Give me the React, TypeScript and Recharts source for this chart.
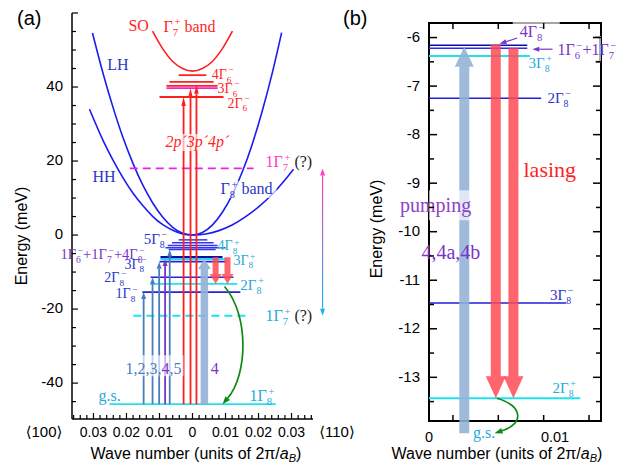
import React from "react";
import { ComposedChart, XAxis, YAxis, Line, ReferenceLine, ReferenceDot, ReferenceArea } from "recharts";

const SERIF = "'Liberation Serif', 'DejaVu Serif', serif";
const SANS = "'Liberation Sans', 'DejaVu Sans', Arial, sans-serif";

const BLUE = "#1c1cf0";
const DKBLUE = "#0c0ca6";
const RED = "#ff1f1f";
const MAGENTA = "#f020dc";
const CYAN = "#1ee3ee";
const STEEL = "#4a7cc0";
const PURPLE = "#7a34c8";
const PUMP = "#93b0d7";
const LASE = "#ff4a52";
const GREEN = "#0e8a12";
const BLUE_T = "#2a36c8";
const CYAN_T = "#27a9dc";
const MAG_T = "#ff3cc0";

// ---- panel (a): [k (2pi/aB), E (meV)]; k<0 is <100>, k>0 is <110>
const lh100: [number, number][] = [[-0.0303, 54.6], [-0.027, 43.4], [-0.024, 34.3], [-0.021, 26.2], [-0.018, 19.3], [-0.015, 13.4], [-0.012, 8.6], [-0.009, 4.8], [-0.006, 2.1], [-0.003, 0.5], [0, 0]];
const hh100: [number, number][] = [[-0.0312, 34.0], [-0.027, 25.4], [-0.024, 20.1], [-0.021, 15.4], [-0.018, 11.3], [-0.015, 7.9], [-0.012, 5.0], [-0.009, 2.8], [-0.006, 1.3], [-0.003, 0.3], [0, 0]];
const lh110: [number, number][] = [[0, 0], [0.003, 0.7], [0.006, 2.7], [0.009, 6.1], [0.012, 10.8], [0.015, 16.9], [0.018, 24.3], [0.021, 33.1], [0.024, 43.2], [0.027, 54.7]];
const hh110: [number, number][] = [[0, 0], [0.004, 0.3], [0.008, 1.2], [0.012, 2.7], [0.016, 4.9], [0.02, 7.6], [0.024, 10.9], [0.028, 14.9], [0.0306, 17.8]];
const soBand: [number, number][] = [[-0.0121, 55.1], [-0.009, 50.3], [-0.006, 46.9], [-0.003, 45.0], [0, 44.3], [0.003, 45.0], [0.006, 46.9], [0.009, 50.3], [0.0121, 55.1]];

// levels: [E, k from, k to]
const gamma6Levels = [[43.2, -0.0042, 0.0042], [41.4, -0.007, 0.0064], [40.3, -0.0079, 0.0076], [37.3, -0.01, 0.0094]];
const magentaLevels = [[39.7, -0.0079, 0.0076]];
const edgeLevels = [[-1.3, -0.0042, 0.0045], [-2.1, -0.0062, 0.0064], [-2.8, -0.0075, 0.0076], [-3.4, -0.0082, 0.01], [-3.9, -0.0072, 0.007]];
const gamma8mLevels = [[-7.2, -0.01, 0.0103], [-11.4, -0.0127, 0.0124], [-15.4, -0.0152, 0.0145]];
const gamma8mTop = [[-6.0, -0.0097, 0.0091]];
const gamma8pLevels = [[-6.5, -0.0097, 0.0103], [-13.2, -0.0127, 0.0136], [-45.7, -0.0252, 0.0252]];
const gamma7Dashed = [[18.0, -0.019, 0.0185]];
const gamma7DashedLow = [[-21.8, -0.0179, 0.0176]];

const groundE = -45.7;
const absK = [-0.0148, -0.0121, -0.0101, -0.0083, -0.0069];
const absTop = [-15.4, -11.4, -7.2, -6.5, -3.9];
const pK = [-0.0027, -0.0006, 0.0012];
const pTop = [37.3, 39.7, 40.6];
const pumpA = [0.0036, -45.7, -6.5];
const laseAK = [0.007, 0.0106];
const laseAE = [-6.0, -13.2];
const relaxA = [[0.0097, -13.9], [0.0091, -45.7]];
const gamma7Span = [0.0394, 18.0, -21.8];

const aYTicks = [-45, -40, -35, -30, -25, -20, -15, -10, -5, 0, 5, 10, 15, 20, 25, 30, 35, 40, 45, 50, 55, 60];
const aYLabels = [-40, -20, 0, 20, 40];
const aXTicks: number[] = [];
for (let i = -18; i <= 18; i++) aXTicks.push((i * 2) / 1000);

// ---- panel (b)
const bBlue = [[-7.25, 0, 0.0089], [-11.47, 0, 0.0109]];
const bTop = [[-6.16, 0, 0.0078], [-6.22, 0, 0.0078]];
const bCyan = [[-6.38, 0, 0.008], [-13.43, 0, 0.012]];
const pumpB = [0.0028, -14.15, -6.19];
const laseBK = [0.0053, 0.0067];
const laseBTop = [-6.15, -6.22];
const laseBBottom = -13.43;
const relaxB = [[0.0054, -13.43], [0.0052, -14.15]];
const bYTicks = [-13.5, -13, -12.5, -12, -11.5, -11, -10.5, -10, -9.5, -9, -8.5, -8, -7.5, -7, -6.5, -6];
const bXMinor = [0.0019, 0.0055, 0.0091, 0.0127];
const bXLabels = [0, 0.01];

const B_W = 172;
const B_H = 398;

type Seg = [string, string];

function rich(segs: Seg[], fs: number) {
  const out: React.ReactNode[] = [];
  let off = 0;
  let n = 0;
  const put = (t: string, c: string, target: number, size: number, dx?: number) => {
    out.push(
      <tspan key={n++} fill={c} fontSize={size} dx={dx} dy={target - off}>
        {t}
      </tspan>
    );
    off = target;
  };
  for (const [s, c] of segs) {
    let buf = "";
    let prevSub = false;
    for (let i = 0; i < s.length; i++) {
      const ch = s[i];
      if (ch === "_" || ch === "^") {
        if (buf) { put(buf, c, 0, fs); buf = ""; }
        const t = s[++i];
        if (ch === "_") { put(t, c, fs * 0.26, fs * 0.66); prevSub = true; }
        else { put(t, c, -fs * 0.4, fs * 0.66, prevSub ? -fs * 0.22 : undefined); prevSub = false; }
      } else {
        buf += ch;
        prevSub = false;
      }
    }
    if (buf) put(buf, c, 0, fs);
  }
  return out;
}

type NoteOpts = { fs?: number; italic?: boolean; bg?: number[] };

function note(key: string, k: number, e: number, segs: Seg[], o: NoteOpts = {}) {
  const fs = o.fs ?? 16;
  return (
    <ReferenceDot
      key={key}
      x={k}
      y={e}
      r={0}
      ifOverflow="visible"
      shape={(p: any) => (
        <g>
          {o.bg && <rect x={p.cx + o.bg[0]} y={p.cy + o.bg[1]} width={o.bg[2]} height={o.bg[3]} fill="#fff" fillOpacity={0.65} />}
          <text x={p.cx} y={p.cy} fontSize={fs} fontFamily={SERIF} fontStyle={o.italic ? "italic" : undefined}>
            {rich(segs, fs)}
          </text>
        </g>
      )}
    />
  );
}

const thinArrow = (color: string, w: number, hl: number, hw: number) => (p: any) => {
  const { x1, y1, x2, y2 } = p;
  const L = Math.hypot(x2 - x1, y2 - y1) || 1;
  const ux = (x2 - x1) / L, uy = (y2 - y1) / L;
  const bx = x2 - ux * hl, by = y2 - uy * hl;
  const px = -uy * hw / 2, py = ux * hw / 2;
  return (
    <g>
      <line x1={x1} y1={y1} x2={bx} y2={by} stroke={color} strokeWidth={w} />
      <polygon points={`${x2},${y2} ${bx + px},${by + py} ${bx - px},${by - py}`} fill={color} />
    </g>
  );
};

const fatArrow = (color: string, sw: number, hw: number, hl: number, op: number) => (p: any) => {
  const { x1, y1, x2, y2 } = p;
  const L = Math.hypot(x2 - x1, y2 - y1) || 1;
  const ux = (x2 - x1) / L, uy = (y2 - y1) / L;
  const nx = -uy, ny = ux;
  const bx = x2 - ux * hl, by = y2 - uy * hl;
  const pts = [
    [x1 + nx * sw / 2, y1 + ny * sw / 2],
    [bx + nx * sw / 2, by + ny * sw / 2],
    [bx + nx * hw / 2, by + ny * hw / 2],
    [x2, y2],
    [bx - nx * hw / 2, by - ny * hw / 2],
    [bx - nx * sw / 2, by - ny * sw / 2],
    [x1 - nx * sw / 2, y1 - ny * sw / 2],
  ];
  return <polygon points={pts.map((q) => q.join(",")).join(" ")} fill={color} fillOpacity={op} />;
};

const curvedArrow = (color: string, bulge: number) => (p: any) => {
  const { x1, y1, x2, y2 } = p;
  const dy = y2 - y1;
  const c1x = x1 + bulge, c1y = y1 + dy * 0.25;
  const c2x = x2 + bulge, c2y = y2 - dy * 0.25;
  const L = Math.hypot(x2 - c2x, y2 - c2y) || 1;
  const ux = (x2 - c2x) / L, uy = (y2 - c2y) / L;
  const hl = 8, hw = 6;
  const bx = x2 - ux * hl, by = y2 - uy * hl;
  return (
    <g>
      <path d={`M${x1},${y1} C${c1x},${c1y} ${c2x},${c2y} ${bx},${by}`} fill="none" stroke={color} strokeWidth={1.7} />
      <polygon points={`${x2},${y2} ${bx - uy * hw / 2},${by + ux * hw / 2} ${bx + uy * hw / 2},${by - ux * hw / 2}`} fill={color} />
    </g>
  );
};

const gradArrow = (p: any) => {
  const { x1, y1, x2, y2 } = p;
  const top = Math.min(y1, y2), bot = Math.max(y1, y2);
  const hl = 7, hw = 5;
  return (
    <g>
      <defs>
        <linearGradient id="g7grad" x1="0" y1="0" x2="0" y2="1">
          <stop offset="0" stopColor="#ff40b8" />
          <stop offset="1" stopColor="#1fb2ee" />
        </linearGradient>
      </defs>
      <rect x={x1 - 0.6} y={top + hl} width={1.2} height={bot - top - 2 * hl} fill="url(#g7grad)" />
      <polygon points={`${x1},${top} ${x1 - hw / 2},${top + hl} ${x1 + hw / 2},${top + hl}`} fill="#ff40b8" />
      <polygon points={`${x2},${bot} ${x2 - hw / 2},${bot - hl} ${x2 + hw / 2},${bot - hl}`} fill="#1fb2ee" />
    </g>
  );
};

const bracket = (p: any) => {
  const { x1, y1, y2 } = p;
  return <path d={`M${x1 - 5},${y1} H${x1} V${y2} H${x1 - 5}`} fill="none" stroke="#aaa" strokeWidth={2} />;
};

const pts = (arr: [number, number][]) => arr.map(([k, e]) => ({ k, e }));

const level = (key: string, l: number[], color: string, w: number, dash?: string) => (
  <ReferenceLine
    key={key}
    segment={[{ x: l[1], y: l[0] }, { x: l[2], y: l[0] }]}
    stroke={color}
    strokeWidth={w}
    strokeDasharray={dash}
    ifOverflow="visible"
  />
);

const tickYA = (p: any) => {
  const v = p.payload.value;
  const major = v % 20 === 0;
  return (
    <g>
      <line x1={p.x} x2={p.x + (major ? 6 : 4)} y1={p.y} y2={p.y} stroke="#000" strokeWidth={1.2} />
      {aYLabels.includes(v) && (
        <text x={p.x - 9} y={p.y + 4} textAnchor="end" fontSize={15} fontFamily={SANS} fill="#000">
          {v}
        </text>
      )}
    </g>
  );
};

const tickXA = (p: any) => {
  const v = p.payload.value;
  const m = Math.round(v * 1000);
  const major = m % 10 === 0;
  return (
    <g>
      <line x1={p.x} x2={p.x} y1={p.y} y2={p.y - (major ? 6 : 4)} stroke="#000" strokeWidth={1.2} />
      {major && (
        <text x={p.x} y={p.y + 18} textAnchor="middle" fontSize={14} fontFamily={SANS} fill="#000">
          {m === 0 ? "0" : Math.abs(v).toFixed(2)}
        </text>
      )}
    </g>
  );
};

const tickYB = (p: any) => {
  const v = p.payload.value;
  const major = Number.isInteger(v);
  const len = major ? 8 : 5;
  return (
    <g>
      <line x1={p.x} x2={p.x + len} y1={p.y} y2={p.y} stroke="#000" strokeWidth={1.5} />
      <line x1={p.x + B_W} x2={p.x + B_W - len} y1={p.y} y2={p.y} stroke="#000" strokeWidth={1.5} />
      {major && (
        <text x={p.x - 9} y={p.y + 4.5} textAnchor="end" fontSize={15} fontFamily={SANS} fill="#000">
          {v}
        </text>
      )}
    </g>
  );
};

const tickXB = (p: any) => {
  const v = p.payload.value;
  if (bXLabels.includes(v)) {
    return (
      <text x={p.x} y={p.y + 21} textAnchor="middle" fontSize={14.5} fontFamily={SANS} fill="#000">
        {v === 0 ? "0" : "0.01"}
      </text>
    );
  }
  return (
    <g>
      <line x1={p.x} x2={p.x} y1={p.y} y2={p.y - 6} stroke="#000" strokeWidth={1.5} />
      <line x1={p.x} x2={p.x} y1={p.y - B_H} y2={p.y - B_H + 6} stroke="#000" strokeWidth={1.5} />
    </g>
  );
};

function PanelA() {
  const curves: [string, [number, number][], string][] = [
    ["lh100", lh100, BLUE],
    ["hh100", hh100, BLUE],
    ["lh110", lh110, BLUE],
    ["hh110", hh110, BLUE],
    ["so", soBand, RED],
  ];
  return (
    <ComposedChart width={631} height={466} margin={{ top: 13, right: 318, bottom: 46, left: 71 }}>
      <XAxis dataKey="k" type="number" domain={[-0.0365, 0.0365]} allowDataOverflow ticks={aXTicks} interval={0} height={1} tickSize={0} tickMargin={0} tickLine={false} axisLine={{ stroke: "#000", strokeWidth: 1.5 }} tick={tickXA} />
      <YAxis type="number" domain={[-49.7, 60]} allowDataOverflow ticks={aYTicks} interval={0} width={1} tickSize={0} tickMargin={0} tickLine={false} axisLine={{ stroke: "#000", strokeWidth: 1.5 }} tick={tickYA} />
      {curves.map(([key, d, c]) => (
        <Line key={key} data={pts(d)} dataKey="e" type="monotone" stroke={c} strokeWidth={1.6} dot={false} isAnimationActive={false} />
      ))}
      {gamma6Levels.map((l, i) => level("g6" + i, l, RED, 1.8))}
      {magentaLevels.map((l, i) => level("mg" + i, l, MAGENTA, 1.6))}
      {edgeLevels.map((l, i) => level("ed" + i, l, "#3434ee", 1.5))}
      {gamma8mTop.map((l, i) => level("gt" + i, l, DKBLUE, 2.4))}
      {gamma8mLevels.map((l, i) => level("gm" + i, l, "#2424d8", 1.7))}
      {gamma8pLevels.map((l, i) => level("gp" + i, l, CYAN, 1.8))}
      {gamma7Dashed.map((l, i) => level("d1" + i, l, MAGENTA, 1.8, "8 5"))}
      {gamma7DashedLow.map((l, i) => level("d2" + i, l, CYAN, 1.8, "8 5"))}
      {absK.map((k, i) => (
        <ReferenceLine key={"ab" + i} segment={[{ x: k, y: groundE }, { x: k, y: absTop[i] }]} ifOverflow="visible" shape={thinArrow(i === 3 ? PURPLE : STEEL, 1.8, 7, 5)} />
      ))}
      {pK.map((k, i) => (
        <ReferenceLine key={"p" + i} segment={[{ x: k, y: groundE }, { x: k, y: pTop[i] }]} ifOverflow="visible" shape={thinArrow(RED, 1.8, 9, 4.5)} />
      ))}
      <ReferenceLine segment={[{ x: pumpA[0], y: pumpA[1] }, { x: pumpA[0], y: pumpA[2] }]} ifOverflow="visible" shape={fatArrow(PUMP, 7.5, 13, 10, 0.9)} />
      {laseAK.map((k, i) => (
        <ReferenceLine key={"la" + i} segment={[{ x: k, y: laseAE[0] }, { x: k, y: laseAE[1] }]} ifOverflow="visible" shape={fatArrow(LASE, 6, 12, 10, 0.85)} />
      ))}
      <ReferenceLine segment={[{ x: relaxA[0][0], y: relaxA[0][1] }, { x: relaxA[1][0], y: relaxA[1][1] }]} ifOverflow="visible" shape={curvedArrow(GREEN, 25)} />
      <ReferenceLine segment={[{ x: gamma7Span[0], y: gamma7Span[1] }, { x: gamma7Span[0], y: gamma7Span[2] }]} ifOverflow="visible" shape={gradArrow} />

      {note("so", -0.0194, 55.1, [["SO", RED]])}
      {note("g7", -0.0088, 54.9, [["Γ_7^+ band", RED]])}
      {note("lh", -0.0258, 44.6, [["LH", BLUE_T]])}
      {note("hh", -0.0303, 14.3, [["HH", BLUE_T]])}
      {note("g8b", 0.0085, 11.1, [["Γ_8^+ band", BLUE_T]], { bg: [-1, -13, 57, 17] })}
      {note("46", 0.0058, 42.2, [["4Γ_6^−", RED]], { fs: 14 })}
      {note("36", 0.0076, 38.4, [["3Γ_6^−", RED]], { fs: 14 })}
      {note("26", 0.0106, 34.4, [["2Γ_6^−", RED]], { fs: 14 })}
      {note("pp", -0.0082, 23.8, [["2p´3p´4p´", RED]], { italic: true, bg: [-1, -13, 60, 17] })}
      {note("m7", 0.0221, 18.4, [["1Γ_7^+", MAG_T], [" (?)", "#222"]])}
      {note("58", -0.0148, -2.4, [["5Γ_8^−", BLUE_T]], { fs: 15 })}
      {note("mix", -0.04, -6.6, [["1Γ_6^−+1Γ_7^−+4Γ_8^−", PURPLE]], { fs: 14.5 })}
      {note("48p", 0.0076, -4.1, [["4Γ_8^+", CYAN_T]], { fs: 14 })}
      {note("38m", -0.0206, -9.1, [["3Γ_8^−", BLUE_T]], { fs: 14 })}
      {note("38p", 0.0124, -8.0, [["3Γ_8^+", CYAN_T]], { fs: 14 })}
      {note("28m", -0.0267, -12.8, [["2Γ_8^−", BLUE_T]], { fs: 14 })}
      {note("28p", 0.0145, -14.9, [["2Γ_8^+", CYAN_T]], { fs: 15 })}
      {note("18m", -0.0233, -17.1, [["1Γ_8^−", BLUE_T]], { fs: 14 })}
      {note("c7", 0.0221, -23.2, [["1Γ_7^+", CYAN_T], [" (?)", "#222"]])}
      {note("nums", -0.0203, -37.6, [["1,2,3,", STEEL], ["4", PURPLE], [",5", STEEL]], { bg: [-2, -19, 60, 21] })}
      {note("four", 0.0055, -37.6, [["4", PURPLE]], { bg: [-2, -19, 12, 21] })}
      {note("gs", -0.0285, -44.9, [["g.s.", CYAN_T]])}
      {note("18p", 0.0173, -44.9, [["1Γ_8^+", CYAN_T]])}
    </ComposedChart>
  );
}

function PanelB() {
  return (
    <ComposedChart width={631} height={466} margin={{ top: 23, right: 30, bottom: 44, left: 428 }}>
      <XAxis dataKey="k" type="number" domain={[0, 0.01365]} allowDataOverflow ticks={[...bXLabels, ...bXMinor]} interval={0} height={1} tickSize={0} tickMargin={0} tickLine={false} axisLine={false} tick={tickXB} />
      <YAxis type="number" domain={[-13.9, -5.7]} allowDataOverflow ticks={bYTicks} interval={0} width={1} tickSize={0} tickMargin={0} tickLine={false} axisLine={false} tick={tickYB} />
      <ReferenceArea x1={0} x2={0.01365} y1={-13.9} y2={-5.7} fill="none" fillOpacity={0} stroke="#000" strokeWidth={2} ifOverflow="visible" />
      {bTop.map((l, i) => level("bt" + i, l, i === 0 ? DKBLUE : "#2a2af5", 1.5))}
      {bCyan.map((l, i) => level("bc" + i, l, CYAN, 2))}
      {bBlue.map((l, i) => level("bb" + i, l, "#1f1fd8", 1.5))}
      <ReferenceLine segment={[{ x: pumpB[0], y: pumpB[1] }, { x: pumpB[0], y: pumpB[2] }]} ifOverflow="visible" shape={fatArrow(PUMP, 10, 19, 20, 0.88)} />
      {laseBK.map((k, i) => (
        <ReferenceLine key={"lb" + i} segment={[{ x: k, y: laseBTop[i] }, { x: k, y: laseBBottom }]} ifOverflow="visible" shape={fatArrow(LASE, 10, 20, 22, 0.85)} />
      ))}
      <ReferenceLine segment={[{ x: relaxB[0][0], y: relaxB[0][1] }, { x: relaxB[1][0], y: relaxB[1][1] }]} ifOverflow="visible" shape={curvedArrow(GREEN, 28)} />
      <ReferenceLine segment={[{ x: 0.007, y: -6.01 }, { x: 0.0056, y: -6.13 }]} ifOverflow="visible" shape={thinArrow(PURPLE, 1.2, 7, 5)} />
      <ReferenceLine segment={[{ x: 0.0098, y: -6.24 }, { x: 0.0082, y: -6.24 }]} ifOverflow="visible" shape={thinArrow(PURPLE, 1.2, 7, 5)} />
      <ReferenceLine segment={[{ x: 0.01357, y: -5.99 }, { x: 0.01357, y: -6.5 }]} ifOverflow="visible" shape={bracket} />

      {note("b48", 0.0072, -5.99, [["4Γ_8^−", PURPLE]], { bg: [-7, -17, 47, 6] })}
      {note("b67", 0.0102, -6.36, [["1Γ_6^−+1Γ_7^−", PURPLE]])}
      {note("b38p", 0.0079, -6.63, [["3Γ_8^+", CYAN_T]], { fs: 15 })}
      {note("b28m", 0.0094, -7.35, [["2Γ_8^−", BLUE_T]], { fs: 15 })}
      {note("las", 0.0075, -8.88, [["lasing", RED]], { fs: 22 })}
      {note("pump", -0.0023, -9.6, [["pumping", "#8a44c4"]], { fs: 20, bg: [29, -22, 42, 30] })}
      {note("44ab", -0.0006, -10.57, [["4,4a,4b", PURPLE]], { fs: 20 })}
      {note("b38m", 0.0096, -11.41, [["3Γ_8^−", BLUE_T]], { fs: 15 })}
      {note("b28p", 0.0098, -13.33, [["2Γ_8^+", CYAN_T]], { fs: 15 })}
      {note("bgs", 0.0035, -14.24, [["g.s.", CYAN_T]])}
    </ComposedChart>
  );
}

function WaveTitle({ x }: { x: number }) {
  return (
    <text x={x} y={459} textAnchor="middle" fontSize={16} fontFamily={SANS} fill="#000">
      Wave number (units of 2π/<tspan fontStyle="italic">a</tspan>
      <tspan fontStyle="italic" fontSize={11} dy={3}>B</tspan>
      <tspan dy={-3}>)</tspan>
    </text>
  );
}

export default function App() {
  return (
    <div style={{ position: "absolute", left: 0, top: 0, width: 631, height: 466, background: "#fff", overflow: "hidden" }}>
      <div style={{ position: "absolute", left: 0, top: 0 }}>
        <PanelA />
      </div>
      <div style={{ position: "absolute", left: 0, top: 0 }}>
        <PanelB />
      </div>
      <svg width={631} height={466} style={{ position: "absolute", left: 0, top: 0, pointerEvents: "none" }}>
        <text x={17} y={25} fontSize={20} fontFamily={SANS}>(a)</text>
        <text x={343} y={25} fontSize={20} fontFamily={SANS}>(b)</text>
        <text transform="translate(27,236) rotate(-90)" textAnchor="middle" fontSize={16} fontFamily={SANS}>Energy (meV)</text>
        <text transform="translate(382,229) rotate(-90)" textAnchor="middle" fontSize={16} fontFamily={SANS}>Energy (meV)</text>
        <WaveTitle x={196} />
        <WaveTitle x={497} />
        <text x={44} y={437} textAnchor="middle" fontSize={15} fontFamily={SANS}>⟨100⟩</text>
        <text x={337} y={437} textAnchor="middle" fontSize={15} fontFamily={SANS}>⟨110⟩</text>
      </svg>
    </div>
  );
}
